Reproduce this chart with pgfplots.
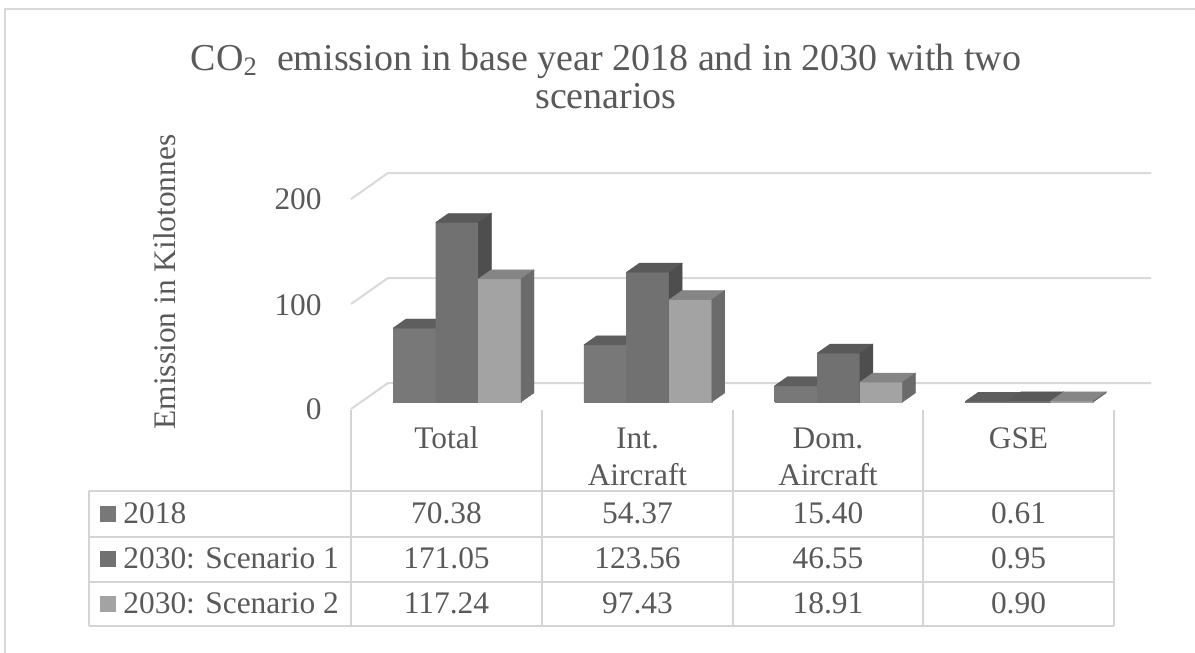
\documentclass[border=0pt]{standalone}
\usepackage{pgfplots}
\pgfplotsset{compat=1.18}
\usepackage{pgfplotstable}
\usepackage{fontspec}
\setmainfont{Liberation Serif}

\definecolor{txt}{HTML}{595959}
\definecolor{gridc}{HTML}{D9D9D9}
\definecolor{tabc}{HTML}{D4D4D4}
% 2018
\definecolor{Fa}{HTML}{787878}\definecolor{Ta}{HTML}{5E5E5E}\definecolor{Sa}{HTML}{565656}
% 2030 S1
\definecolor{Fb}{HTML}{717171}\definecolor{Tb}{HTML}{595959}\definecolor{Sb}{HTML}{4E4E4E}
% 2030 S2
\definecolor{Fc}{HTML}{A3A3A3}\definecolor{Tc}{HTML}{858585}\definecolor{Sc}{HTML}{6B6B6B}

\pgfplotstableread{
cat   y2018   s1      s2
0     70.38   171.05  117.24
1     54.37   123.56  97.43
2     15.40   46.55   18.91
3     0.61    0.95    0.90
}\emis

% geometry (axis units)
\def\bw{0.2237}   % bar width
\def\goff{0.168}  % group offset inside category
\def\da{0.0524}\def\ea{6.69}   % bar front depth shift
\def\db{0.1203}\def\eb{15.35}  % bar back depth shift

\newcommand\cuboid[3]{% #1 x0, #2 value, #3 colour letter
  \pgfmathsetmacro\xa{#1+\da}%
  \pgfmathsetmacro\xb{#1+\bw+\da}%
  \pgfmathsetmacro\xc{#1+\bw+\db}%
  \pgfmathsetmacro\xd{#1+\db}%
  \pgfmathsetmacro\ya{\ea}%
  \pgfmathsetmacro\yb{#2+\ea}%
  \pgfmathsetmacro\yc{#2+\eb}%
  \pgfmathsetmacro\yd{\eb}%
  \edef\temp{%
    \noexpand\addplot[fill=F#3, draw=F#3, line width=0.2pt] coordinates {(\xa,\ya) (\xb,\ya) (\xb,\yb) (\xa,\yb) (\xa,\ya)};
    \noexpand\addplot[fill=T#3, draw=T#3, line width=0.2pt] coordinates {(\xa,\yb) (\xb,\yb) (\xc,\yc) (\xd,\yc) (\xa,\yb)};
    \noexpand\addplot[fill=S#3, draw=S#3, line width=0.2pt] coordinates {(\xb,\ya) (\xc,\yd) (\xc,\yc) (\xb,\yb) (\xb,\ya)};
  }%
  \temp
}
\newcommand\cuboidcell[3]{% #1 row, #2 column index, #3 colour letter
  \pgfplotstablegetelem{#1}{[index]#2}\of\emis
  \let\val\pgfplotsretval
  \pgfmathsetmacro\xz{#1+\goff+(#2-1)*\bw}%
  \cuboid{\xz}{\val}{#3}%
}
\newcommand\cuboidcat[1]{%
  \cuboidcell{#1}{1}{a}%
  \cuboidcell{#1}{2}{b}%
  \cuboidcell{#1}{3}{c}%
}

\begin{document}
\begin{tikzpicture}[x=0.5pt,y=-0.5pt]
\useasboundingbox (0,0) rectangle (1195,653);
\draw[gridc, line width=1pt] (5,653) -- (5,9) -- (1195,9);

\coordinate (O) at (351,409);
\begin{axis}[at={(O)}, anchor=south west,
  x=95.375pt, y=0.525pt,
  xmin=0, xmax=4.194, ymin=0, ymax=224.76,
  hide axis, clip=false]
  \addplot[gridc, line width=1pt] coordinates {(0,0) (0.194,24.76) (4.194,24.76)};
  \addplot[gridc, line width=1pt] coordinates {(0,100) (0.194,124.76) (4.194,124.76)};
  \addplot[gridc, line width=1pt] coordinates {(0,200) (0.194,224.76) (4.194,224.76)};
  \cuboidcat{0}
  \cuboidcat{1}
  \cuboidcat{2}
  \cuboidcat{3}
\end{axis}

% data table lines
\begin{scope}[tabc, line width=1pt]
  \foreach \xx in {351,542,733,923,1114} \draw (\xx,410) -- (\xx,626);
  \draw (89,491) -- (1114,491);
  \draw (89,537) -- (1114,537);
  \draw (89,582) -- (1114,582);
  \draw (89,626) -- (1114,626);
  \draw (89,491) -- (89,626);
\end{scope}

\begin{scope}[every node/.style={text=txt, inner sep=0pt, font=\fontsize{15.7pt}{18pt}\selectfont}]
  % y tick labels
  \node[anchor=east] at (322,199) {200};
  \node[anchor=east] at (322,305) {100};
  \node[anchor=east] at (322,409) {0};
  % y title
  \node[rotate=90] at (165,282) {Emission in Kilotonnes};
  % category labels
  \node[anchor=base] at (446.5,448) {Total};
  \node[anchor=base] at (637.5,448) {Int.};
  \node[anchor=base] at (637.5,485) {Aircraft};
  \node[anchor=base] at (828,448) {Dom.};
  \node[anchor=base] at (828,485) {Aircraft};
  \node[anchor=base] at (1018.5,448) {GSE};
  % legend keys
  \fill[Fa] (100,506) rectangle (116,522);
  \fill[Fb] (100,551) rectangle (116,567);
  \fill[Fc] (100,596) rectangle (116,612);
  \node[anchor=base west] at (123,523) {2018};
  \node[anchor=base west] at (123,568) {2030: Scenario 1};
  \node[anchor=base west] at (123,613) {2030: Scenario 2};
  % values
  \node[anchor=base] at (446.5,523) {70.38};
  \node[anchor=base] at (637.5,523) {54.37};
  \node[anchor=base] at (828,523) {15.40};
  \node[anchor=base] at (1018.5,523) {0.61};
  \node[anchor=base] at (446.5,568) {171.05};
  \node[anchor=base] at (637.5,568) {123.56};
  \node[anchor=base] at (828,568) {46.55};
  \node[anchor=base] at (1018.5,568) {0.95};
  \node[anchor=base] at (446.5,613) {117.24};
  \node[anchor=base] at (637.5,613) {97.43};
  \node[anchor=base] at (828,613) {18.91};
  \node[anchor=base] at (1018.5,613) {0.90};
  % title
  \node[anchor=base, font=\fontsize{19pt}{22pt}\selectfont] at (606,70) {CO\textsubscript{2}\ \ emission in base year 2018 and in 2030 with two};
  \node[anchor=base, font=\fontsize{19pt}{22pt}\selectfont] at (606,108) {scenarios};
\end{scope}
\end{tikzpicture}
\end{document}
